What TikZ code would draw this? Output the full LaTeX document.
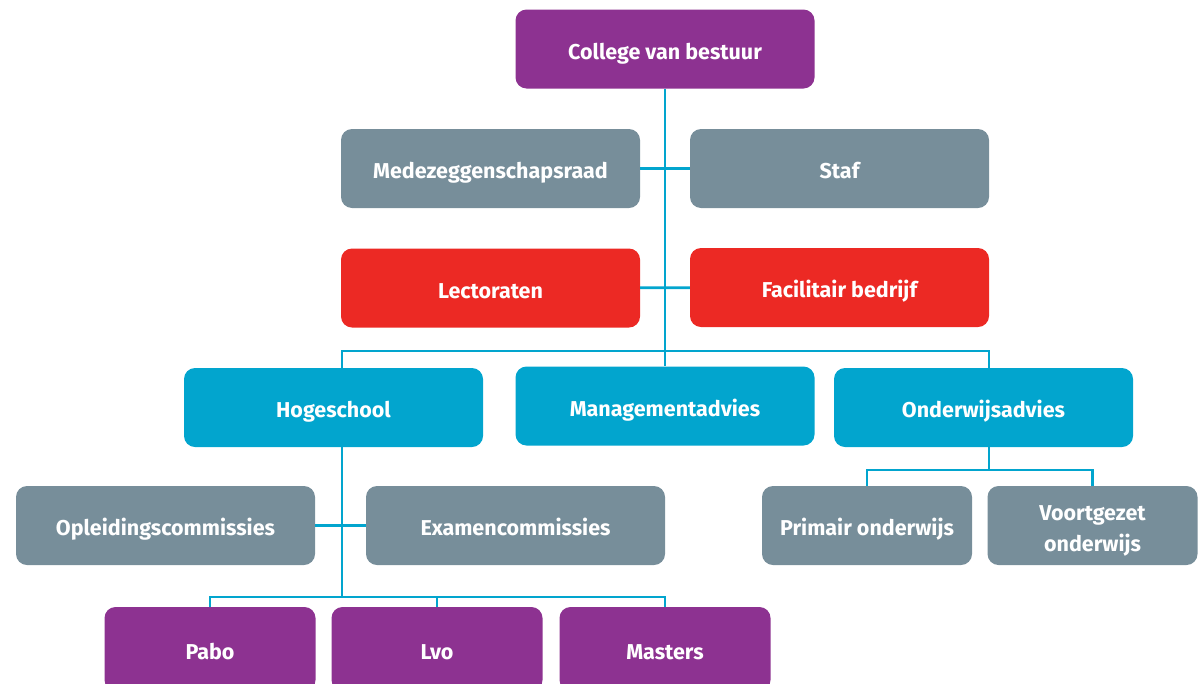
\documentclass[tikz,border=0pt]{standalone}
\usepackage{fontspec}
\setmainfont{Fira Sans}
\usepackage{xcolor}
\definecolor{orgpurple}{RGB}{141,50,145}
\definecolor{orggrey}{RGB}{119,142,154}
\definecolor{orgred}{RGB}{236,41,36}
\definecolor{orgblue}{RGB}{2,165,206}
\tikzset{
  orgbox/.style={rounded corners=11pt, text=white, inner sep=0pt, align=center,
    font=\fontsize{21.5}{31}\selectfont\bfseries, text height=20pt, text depth=0pt,
    minimum height=79pt},
  wide/.style={orgbox, minimum width=299pt},
  small/.style={orgbox, minimum width=211pt},
  link/.style={draw=orgblue, line width=2.6pt}
}
\begin{document}
\begin{tikzpicture}[x=1pt,y=-1pt]
        \useasboundingbox (0,0) rectangle (1198,683);

        %Shape: top
        \node [wide, fill=orgpurple] (cvb) at (665,49) {College van bestuur};
        %Shape: grey and red
        \node [wide, fill=orggrey] (mr) at (490.5,168.5) {Medezeggenschapsraad};
        \node [wide, fill=orggrey] (staf) at (839.5,168.5) {Staf};
        \node [wide, fill=orgred] (lec) at (490.5,288) {Lectoraten};
        \node [wide, fill=orgred] (fac) at (839.5,287.5) {Facilitair bedrijf};
        %Shape: blue row
        \node [wide, fill=orgblue] (hs) at (333.5,407.5) {Hogeschool};
        \node [wide, fill=orgblue] (ma) at (665,406) {Managementadvies};
        \node [wide, fill=orgblue] (oa) at (983.5,407.5) {Onderwijsadvies};
        %Shape: commissies
        \node [wide, fill=orggrey] (oc) at (165.5,525.5) {Opleidingscommissies};
        \node [wide, fill=orggrey] (ec) at (515.5,525.5) {Examencommissies};
        %Shape: onderwijs
        \node [small, fill=orggrey, minimum width=210pt] (po) at (867,525.5) {Primair onderwijs};
        \node [small, fill=orggrey, minimum width=210pt, text height=51pt] (vo) at (1092.5,525.5) {Voortgezet\\onderwijs};
        %Shape: bottom row
        \node [small, fill=orgpurple, minimum height=84pt] (pabo) at (210,649) {Pabo};
        \node [small, fill=orgpurple, minimum height=84pt] (lvo) at (437,649) {Lvo};
        \node [small, fill=orgpurple, minimum height=84pt] (ms) at (665,649) {Masters};

        % Lines
        \coordinate (busa) at (342,351);
        \coordinate (busb) at (989,351);
        \coordinate (busc) at (342,597);
        \coordinate (busd) at (989,470);
        \draw [link] (cvb) -- (ma);
        \draw [link] (mr) -- (staf);
        \draw [link] (lec) -- (fac);
        \draw [link] (busa |- hs.north) -- (busa) -- (busb) -- (busb |- oa.north);
        \draw [link] (busa |- hs.south) -- (busc);
        \draw [link] (oc) -- (ec);
        \draw [link] (pabo.north) |- (busc) -| (ms.north);
        \draw [link] (lvo.north) -- (lvo.north |- busc);
        \draw [link] (busd |- oa.south) -- (busd);
        \draw [link] (po.north) |- (busd) -| (vo.north);

\end{tikzpicture}
\end{document}
